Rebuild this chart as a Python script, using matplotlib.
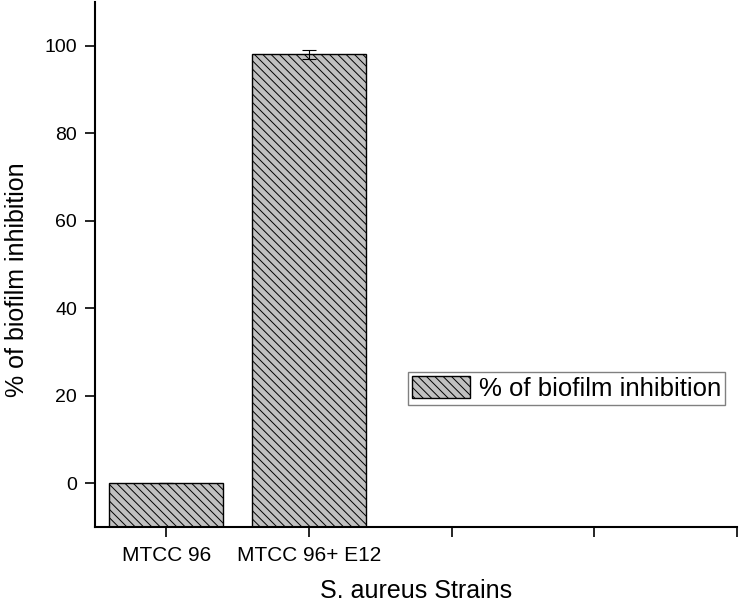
import matplotlib
matplotlib.use("Agg")
import matplotlib.pyplot as plt

# data
strains = ["MTCC 96", "MTCC 96+ E12"]
inhibition = [0.0, 98.0]
inhibition_err = [0.0, 1.0]
x_ticks = [1, 2, 3, 4, 5]
x_labels = strains + ["", "", ""]
y_ticks = [0, 20, 40, 60, 80, 100]
Y_MIN, Y_MAX = -10, 110

plt.rcParams["font.family"] = ["Liberation Sans", "DejaVu Sans"]
plt.rcParams["hatch.linewidth"] = 0.7
plt.rcParams["hatch.color"] = "#3a3a3a"

fig = plt.figure(figsize=(7.39, 6.06), dpi=100)
ax = fig.add_axes([0.1286, 0.1304, 0.8687, 0.8663])

# origin-style bars start at the bottom of the axis
heights = [v - Y_MIN for v in inhibition]
ax.bar(x_ticks[:len(strains)], heights, bottom=Y_MIN, width=0.8,
       color="#c0c0c0", edgecolor="black", linewidth=1.0, hatch="\\\\\\\\",
       label="% of biofilm inhibition")
ax.errorbar(x_ticks[:len(strains)], inhibition, yerr=inhibition_err, fmt="none",
            ecolor="black", elinewidth=0.8, capsize=5, capthick=0.8)

ax.set_xlim(0.5, 5)
ax.set_ylim(Y_MIN, Y_MAX)
ax.set_xticks(x_ticks)
ax.set_xticklabels(x_labels, fontsize=15)
ax.set_yticks(y_ticks)
ax.tick_params(axis="y", labelsize=14, direction="out", length=7, width=1.2, pad=6)
ax.tick_params(axis="x", direction="out", length=7, width=1.2, pad=7)

for side in ["top", "right"]:
    ax.spines[side].set_visible(False)
for side in ["left", "bottom"]:
    ax.spines[side].set_linewidth(1.5)

ax.set_xlabel("S. aureus Strains", fontsize=18, labelpad=10)
ax.set_ylabel("% of biofilm inhibition", fontsize=18, labelpad=11, y=0.471)

leg = ax.legend(loc="upper left", bbox_to_anchor=(0.4875, 0.295), borderaxespad=0,
                fontsize=18.5, fancybox=False, framealpha=1, handlelength=2.26,
                handleheight=0.93, handletextpad=0.35, borderpad=0.15)
leg.get_frame().set_edgecolor("#808080")
leg.get_frame().set_linewidth(1.0)

fig.savefig("out.png", dpi=100)
